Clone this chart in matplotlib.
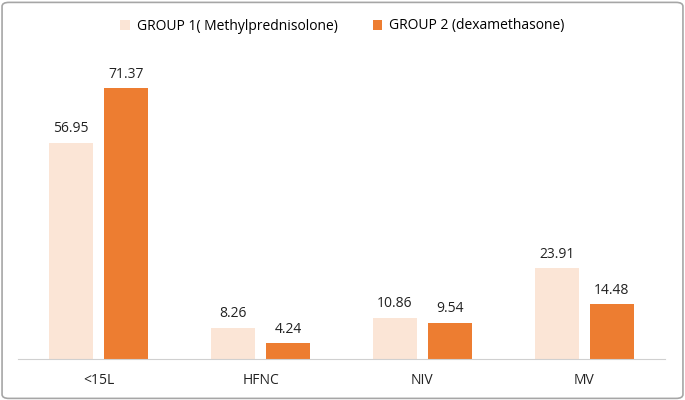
import numpy as np
import matplotlib.pyplot as plt
from matplotlib.patches import FancyBboxPatch

categories = ['<15L', 'HFNC', 'NIV', 'MV']
group1 = [56.95, 8.26, 10.86, 23.91]
group2 = [71.37, 4.24, 9.54, 14.48]
labels = ['GROUP 1( Methylprednisolone)', 'GROUP 2 (dexamethasone)']

plt.rcParams['font.family'] = ['Open Sans', 'DejaVu Sans']

fig = plt.figure(figsize=(6.85, 4), dpi=100)
ax = fig.add_axes([0.026, 0.1025, 0.945, 0.76])

x = np.arange(len(categories))
w = 0.27
off = 0.17
b1 = ax.bar(x - off, group1, w, color='#FBE5D6', label=labels[0])
b2 = ax.bar(x + off, group2, w, color='#ED7D31', label=labels[1])
for bars in (b1, b2):
    ax.bar_label(bars, labels=[f'{v:.2f}' for v in bars.datavalues],
                 padding=4.5, fontsize=10, color='#222222')

ax.set_xlim(-0.5, len(categories) - 0.5)
ax.set_ylim(0, 80)
ax.set_xticks(x)
ax.set_xticklabels(categories, fontsize=10, color='#222222')
ax.tick_params(axis='x', length=0, pad=10)
ax.set_yticks([])
for s in ['top', 'left', 'right']:
    ax.spines[s].set_visible(False)
ax.spines['bottom'].set_color('#D0D0D0')

fig.legend(loc='upper center', bbox_to_anchor=(0.5, 0.985), ncol=2,
           frameon=False, fontsize=10, handlelength=0.7, handleheight=0.7,
           columnspacing=2.5, handletextpad=0.5)

fig.patches.append(FancyBboxPatch((0.003, 0.004), 0.994, 0.99,
                                  boxstyle='round,pad=0,rounding_size=0.01',
                                  transform=fig.transFigure, fill=False,
                                  edgecolor='#A6A6A6', linewidth=1.2))

fig.savefig('out.png', dpi=100)
